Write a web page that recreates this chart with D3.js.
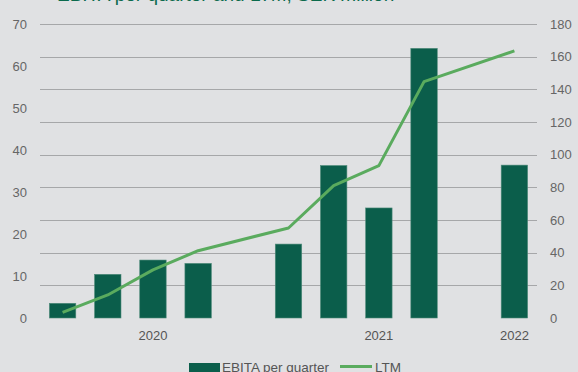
<!DOCTYPE html>
<html>
<head>
<meta charset="utf-8">
<script src="https://cdn.jsdelivr.net/npm/d3@7"></script>
<style>
  body { margin: 0; background: #e0e1e3; }
  svg { display: block; font-family: "Liberation Sans", Arial, sans-serif; }
</style>
</head>
<body>
<svg class="plot" width="578" height="372"></svg>
<script>
// quarters, with empty slots where the source chart leaves gaps
var quarters = ["Q1 20", "Q2 20", "Q3 20", "Q4 20", "gap1", "Q1 21", "Q2 21", "Q3 21", "Q4 21", "gap2", "Q1 22"];
var ebita = [3.5, 10.4, 13.8, 13.0, null, 17.6, 36.3, 26.2, 64.2, null, 36.4];
var ltm = [3.5, 14.1, 29.5, 41.2, null, 55.1, 81.0, 93.3, 144.7, null, 163.5];
var yearLabels = [{q: "Q3 20", text: "2020"}, {q: "Q3 21", text: "2021"}, {q: "Q1 22", text: "2022"}];
var leftTicks = [0, 10, 20, 30, 40, 50, 60, 70];
var rightTicks = [0, 20, 40, 60, 80, 100, 120, 140, 160, 180];

var svg = d3.select(".plot"),
    margin = {top: 24, right: 41, bottom: 54, left: 40},
    width = +svg.attr("width") - margin.left - margin.right,
    height = +svg.attr("height") - margin.top - margin.bottom;

var x = d3.scaleBand().domain(quarters).range([0, width]).paddingInner(0.415).paddingOuter(0.2075),
    yL = d3.scaleLinear().domain([0, 70]).range([height, 0]),
    yR = d3.scaleLinear().domain([0, 180]).range([height, 0]);

var g = svg.append("g")
    .attr("transform", "translate(" + margin.left + "," + margin.top + ")");

// title, mostly cropped off the top in the source
svg.append("text")
    .attr("x", 57)
    .attr("y", 1)
    .style("font-size", "19px")
    .style("fill", "#0b6a4c")
    .text("EBITA per quarter and LTM, SEK million");

// gridlines follow the right axis
g.selectAll(".grid")
    .data(rightTicks.filter(function(d) { return d > 0; }))
    .enter().append("line")
    .attr("x1", 0)
    .attr("x2", width)
    .attr("y1", function(d) { return Math.round(yR(d)) + 0.5; })
    .attr("y2", function(d) { return Math.round(yR(d)) + 0.5; })
    .attr("stroke", "#a6a7a9")
    .attr("stroke-width", 1.2);

// left axis labels
g.selectAll(".lt")
    .data(leftTicks)
    .enter().append("text")
    .attr("x", -13)
    .attr("y", function(d) { return yL(d); })
    .attr("dy", "0.35em")
    .attr("text-anchor", "end")
    .style("font-size", "13px")
    .style("fill", "#666")
    .text(function(d) { return d; });

// right axis labels
g.selectAll(".rt")
    .data(rightTicks)
    .enter().append("text")
    .attr("x", width + 13)
    .attr("y", function(d) { return yR(d); })
    .attr("dy", "0.35em")
    .style("font-size", "13px")
    .style("fill", "#666")
    .text(function(d) { return d; });

// bars
g.selectAll(".bar")
    .data(quarters.map(function(q, i) { return {q: q, v: ebita[i]}; }).filter(function(d) { return d.v != null; }))
    .enter().append("rect")
    .attr("x", function(d) { return x(d.q); })
    .attr("y", function(d) { return yL(d.v); })
    .attr("width", x.bandwidth())
    .attr("height", function(d) { return height - yL(d.v); })
    .attr("fill", "#0b5e4b")
    .attr("stroke", "#4f8b7a")
    .attr("stroke-width", 0.6);

// LTM line, gaps skipped
var pts = quarters.map(function(q, i) { return {q: q, v: ltm[i]}; }).filter(function(d) { return d.v != null; });
g.append("path")
    .datum(pts)
    .attr("fill", "none")
    .attr("stroke", "#5aab5e")
    .attr("stroke-width", 3)
    .attr("stroke-linejoin", "round")
    .attr("d", d3.line()
        .x(function(d) { return x(d.q) + x.bandwidth() / 2; })
        .y(function(d) { return yR(d.v); }));

// year labels
g.selectAll(".yr")
    .data(yearLabels)
    .enter().append("text")
    .attr("x", function(d) { return x(d.q) + x.bandwidth() / 2; })
    .attr("y", height + 22)
    .attr("text-anchor", "middle")
    .style("font-size", "13px")
    .style("fill", "#555")
    .text(function(d) { return d.text; });

// legend
var lg = svg.append("g").attr("transform", "translate(0,0)");
lg.append("rect").attr("x", 189).attr("y", 363).attr("width", 31).attr("height", 10).attr("fill", "#0b5e4b");
lg.append("text").attr("x", 222).attr("y", 371.5).style("font-size", "13.5px").style("fill", "#555").text("EBITA per quarter");
lg.append("line").attr("x1", 340).attr("x2", 372).attr("y1", 366.5).attr("y2", 366.5)
    .attr("stroke", "#5aab5e").attr("stroke-width", 3);
lg.append("text").attr("x", 375).attr("y", 371.5).style("font-size", "13.5px").style("fill", "#555").text("LTM");
</script>
</body>
</html>
